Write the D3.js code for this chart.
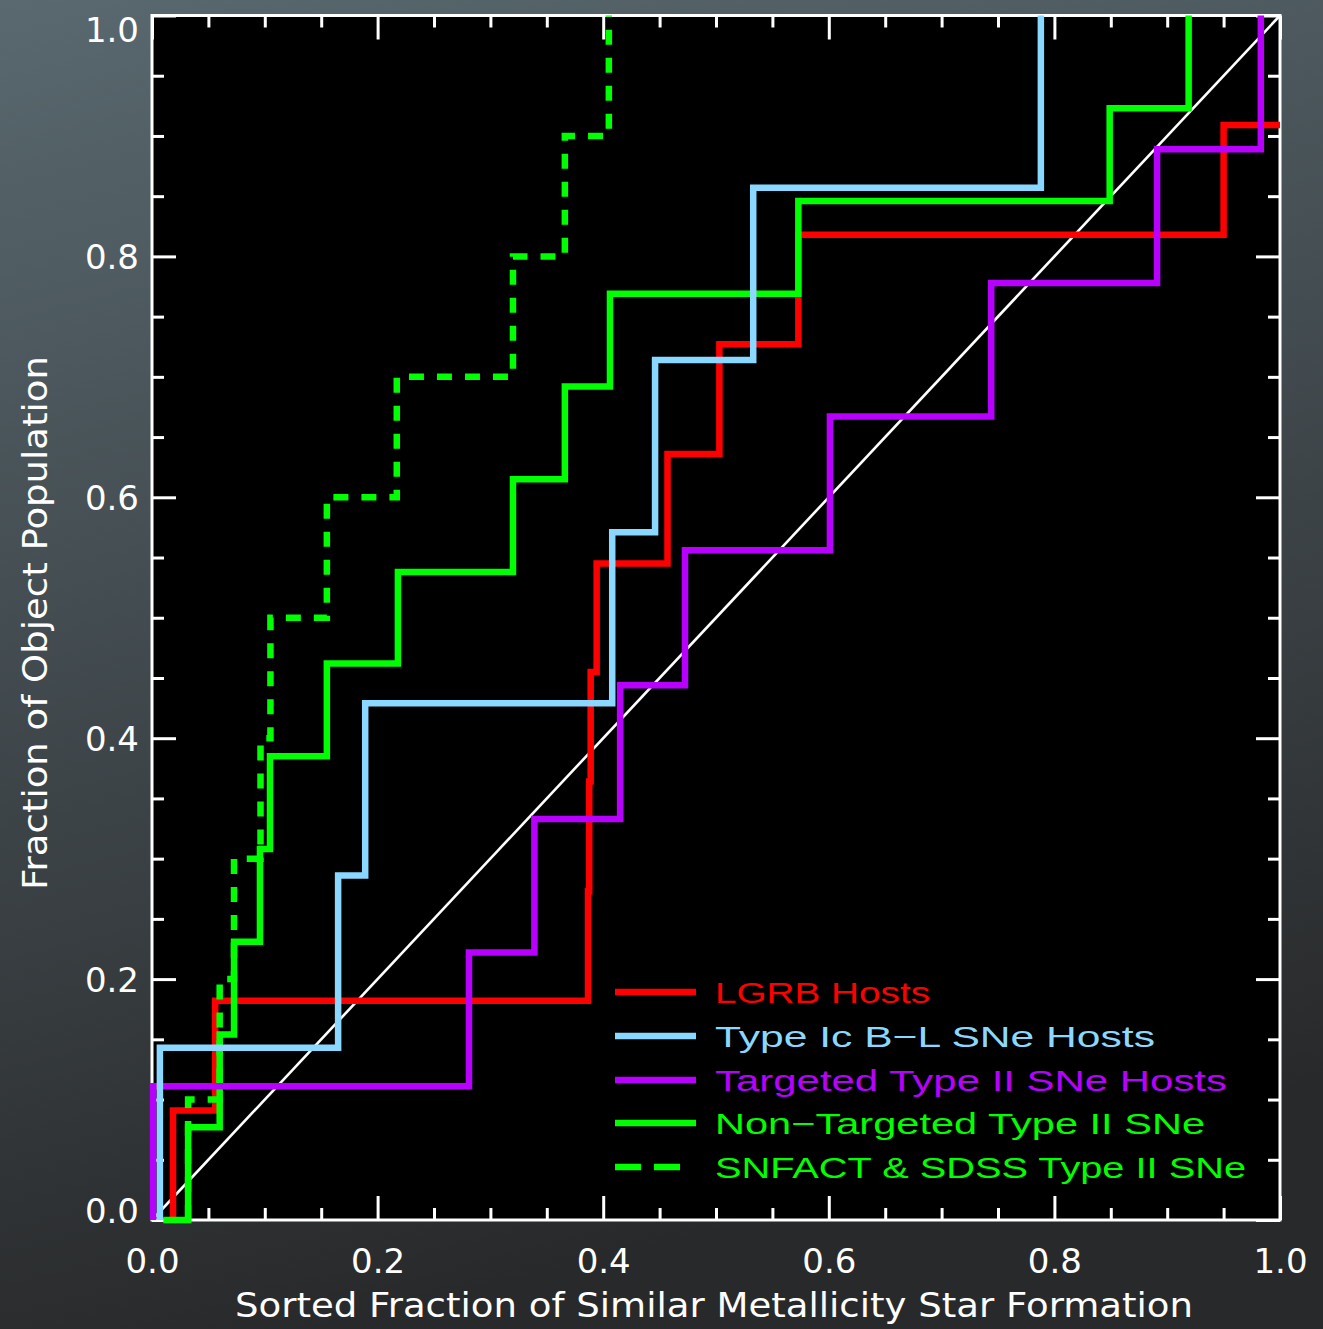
<!DOCTYPE html>
<html>
<head>
<meta charset="utf-8">
<script src="https://cdn.jsdelivr.net/npm/d3@7"></script>
<style>
  html, body { margin: 0; padding: 0; background: #303336; }
  svg { display: block; }
</style>
</head>
<body>
<svg id="chart" width="1323" height="1329"></svg>
<script>
// ---- axis ticks ----
const majorTicks = [0, 0.2, 0.4, 0.6, 0.8, 1.0];
const tickLabels = ["0.0", "0.2", "0.4", "0.6", "0.8", "1.0"];
const minorTicks = [0.05, 0.1, 0.15, 0.25, 0.3, 0.35, 0.45, 0.5, 0.55, 0.65, 0.7, 0.75, 0.85, 0.9, 0.95];

// ---- cumulative distributions: x where each step occurs, level after the step ----
const lgrbStart = 0.0186;
const lgrbX = [0.0186, 0.056, 0.3865, 0.3876, 0.3889, 0.3942, 0.457, 0.503, 0.573, 0.950];
const lgrbY = [0.091, 0.182, 0.273, 0.364, 0.455, 0.545, 0.636, 0.727, 0.818, 0.909];
const lgrbEnd = 1.0;

const icblStart = 0.007;
const icblX = [0.007, 0.165, 0.189, 0.408, 0.446, 0.533, 0.788];
const icblY = [0.143, 0.286, 0.429, 0.571, 0.714, 0.857, 1.0];
const icblEnd = 0.788;

const targetedStart = 0.001;
const targetedX = [0.001, 0.281, 0.339, 0.415, 0.4725, 0.601, 0.744, 0.891, 0.983];
const targetedY = [0.111, 0.222, 0.333, 0.444, 0.556, 0.667, 0.778, 0.889, 1.0];
const targetedEnd = 0.983;

const nonTargetedStart = 0.01;
const nonTargetedX = [0.032, 0.060, 0.0727, 0.0957, 0.1046, 0.155, 0.218, 0.320, 0.366, 0.406, 0.573, 0.849, 0.919];
const nonTargetedY = [0.077, 0.154, 0.231, 0.308, 0.385, 0.462, 0.538, 0.615, 0.692, 0.769, 0.846, 0.923, 1.0];
const nonTargetedEnd = 0.919;

const snfactStart = 0.032;
const snfactX = [0.032, 0.060, 0.0727, 0.0962, 0.1050, 0.155, 0.217, 0.320, 0.366, 0.405];
const snfactY = [0.1, 0.2, 0.3, 0.4, 0.5, 0.6, 0.7, 0.8, 0.9, 1.0];
const snfactEnd = 0.405;

const seriesNames = ["LGRB Hosts", "Type Ic B\u2212L SNe Hosts", "Targeted Type II SNe Hosts",
                     "Non\u2212Targeted Type II SNe", "SNFACT & SDSS Type II SNe"];
const seriesColors = ["#ff0000", "#8ad8ff", "#b800ff", "#00ff00", "#00ff00"];

// ---- layout ----
const W = 1323, H = 1329;
const plot = { left: 152, top: 15.5, right: 1280, bottom: 1220 };
const svg = d3.select("#chart");

const x = d3.scaleLinear().domain([0, 1]).range([plot.left, plot.right]);
const y = d3.scaleLinear().domain([0, 1]).range([plot.bottom, plot.top]);

// background
const defs = svg.append("defs");
const bg = defs.append("linearGradient").attr("id", "bg")
  .attr("x1", 0).attr("y1", 0).attr("x2", 0.25).attr("y2", 1);
bg.append("stop").attr("offset", "0%").attr("stop-color", "#59696f");
bg.append("stop").attr("offset", "45%").attr("stop-color", "#434c51");
bg.append("stop").attr("offset", "100%").attr("stop-color", "#28292a");
svg.append("rect").attr("width", W).attr("height", H).attr("fill", "url(#bg)");

svg.append("rect")
  .attr("x", plot.left).attr("y", plot.top)
  .attr("width", plot.right - plot.left).attr("height", plot.bottom - plot.top)
  .attr("fill", "#000");

// ---- frame with inward ticks on all four sides ----
function tickAxis(axis, transform, size, values) {
  const g = svg.append("g").attr("transform", transform)
    .call(axis.tickValues(values).tickSize(-size).tickFormat(""));
  g.select(".domain").remove();
  g.selectAll(".tick line").attr("stroke", "#fff").attr("stroke-width", 3);
  return g;
}
[[12, minorTicks], [24, majorTicks]].forEach(([len, vals]) => {
  tickAxis(d3.axisBottom(x), `translate(0,${plot.bottom})`, len, vals);
  tickAxis(d3.axisTop(x), `translate(0,${plot.top})`, len, vals);
  tickAxis(d3.axisLeft(y), `translate(${plot.left},0)`, len, vals);
  tickAxis(d3.axisRight(y), `translate(${plot.right},0)`, len, vals);
});

svg.append("rect")
  .attr("x", plot.left).attr("y", plot.top)
  .attr("width", plot.right - plot.left).attr("height", plot.bottom - plot.top)
  .attr("fill", "none").attr("stroke", "#fff").attr("stroke-width", 3);

// ---- tick labels ----
const labelFont = "'DejaVu Sans', 'Liberation Sans', sans-serif";
const xLab = svg.append("g").attr("transform", `translate(0,${plot.bottom})`)
  .call(d3.axisBottom(x).tickValues(majorTicks).tickSize(0)
    .tickFormat((d, i) => tickLabels[i]));
xLab.select(".domain").remove();
xLab.selectAll("text")
  .attr("fill", "#fff").attr("font-family", labelFont).attr("font-size", 34)
  .attr("dy", null).attr("y", 53);

const yLab = svg.append("g").attr("transform", `translate(${plot.left},0)`)
  .call(d3.axisLeft(y).tickValues(majorTicks).tickSize(0)
    .tickFormat((d, i) => tickLabels[i]));
yLab.select(".domain").remove();
yLab.selectAll("text")
  .attr("fill", "#fff").attr("font-family", labelFont).attr("font-size", 34)
  .attr("x", -13).attr("dy", null)
  .attr("y", d => d === 0 ? 2 : (d === 1 ? 25.5 : 12.5));

// ---- axis titles ----
svg.append("text")
  .attr("x", (235 + 1193) / 2).attr("y", 1317)
  .attr("text-anchor", "middle")
  .attr("fill", "#fff").attr("font-family", labelFont).attr("font-size", 33)
  .attr("textLength", 958).attr("lengthAdjust", "spacingAndGlyphs")
  .text("Sorted Fraction of Similar Metallicity Star Formation");

svg.append("text")
  .attr("transform", "translate(47,623) rotate(-90)")
  .attr("text-anchor", "middle")
  .attr("fill", "#fff").attr("font-family", labelFont).attr("font-size", 33)
  .attr("textLength", 534).attr("lengthAdjust", "spacingAndGlyphs")
  .text("Fraction of Object Population");

// ---- one-to-one line ----
svg.append("line")
  .attr("x1", x(0)).attr("y1", y(0)).attr("x2", x(1)).attr("y2", y(1))
  .attr("stroke", "#fff").attr("stroke-width", 2.6);

// ---- step curves ----
const stepLine = d3.line().x(d => x(d[0])).y(d => y(d[1])).curve(d3.curveStepAfter);
function stepPoints(start, xs, ys, end) {
  const pts = [[start, 0]];
  xs.forEach((v, i) => pts.push([v, ys[i]]));
  pts.push([end, ys[ys.length - 1]]);
  return pts;
}
function drawStep(pts, color, dash) {
  svg.append("path")
    .attr("d", stepLine(pts))
    .attr("fill", "none").attr("stroke", color).attr("stroke-width", 6.5)
    .attr("stroke-linejoin", "miter").attr("stroke-linecap", "butt")
    .attr("stroke-dasharray", dash || null);
}
drawStep(stepPoints(lgrbStart, lgrbX, lgrbY, lgrbEnd), seriesColors[0]);
drawStep(stepPoints(snfactStart, snfactX, snfactY, snfactEnd), seriesColors[4], "15,13");
drawStep(stepPoints(nonTargetedStart, nonTargetedX, nonTargetedY, nonTargetedEnd), seriesColors[3]);
drawStep(stepPoints(targetedStart, targetedX, targetedY, targetedEnd), seriesColors[2]);
drawStep(stepPoints(icblStart, icblX, icblY, icblEnd), seriesColors[1]);

// ---- legend ----
const legendFont = "'Liberation Sans Narrow', 'Liberation Sans', 'DejaVu Sans', sans-serif";
const legendRowsY = [992, 1036, 1080, 1123, 1167];
const legendWidths = [215, 440, 512, 490, 531];
const legend = svg.append("g");
seriesNames.forEach((name, i) => {
  legend.append("line")
    .attr("x1", 615).attr("x2", i === 4 ? 680 : 696)
    .attr("y1", legendRowsY[i]).attr("y2", legendRowsY[i])
    .attr("stroke", seriesColors[i]).attr("stroke-width", 6.5)
    .attr("stroke-dasharray", i === 4 ? "26,13" : null);
  legend.append("text")
    .attr("x", 715).attr("y", legendRowsY[i] + 11)
    .attr("fill", seriesColors[i]).attr("font-family", legendFont).attr("font-size", 30)
    .attr("textLength", legendWidths[i]).attr("lengthAdjust", "spacingAndGlyphs")
    .text(name);
});
</script>
</body>
</html>
